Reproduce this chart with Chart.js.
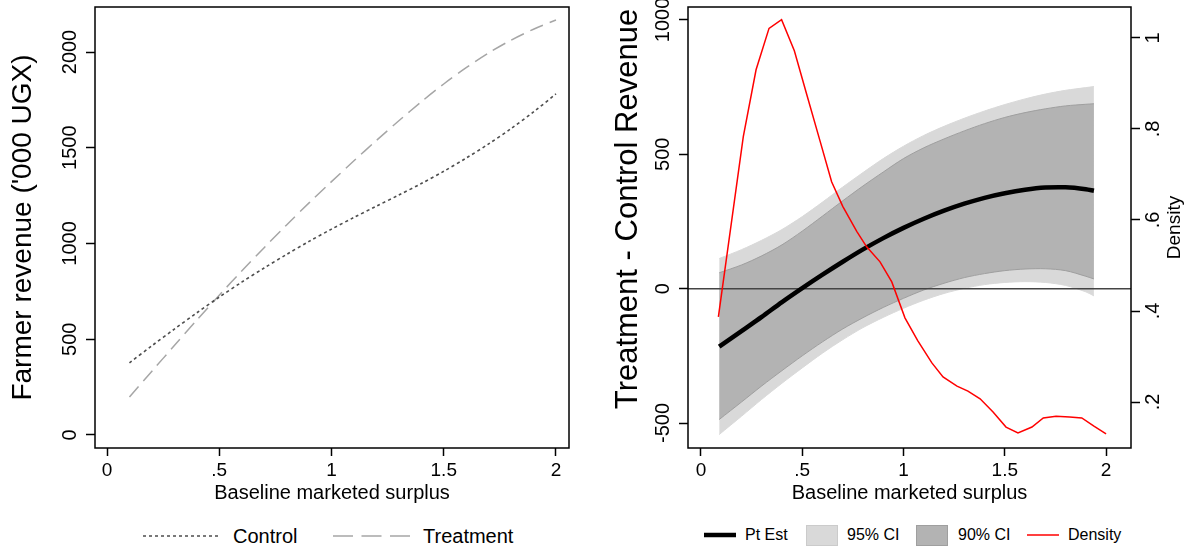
<!DOCTYPE html>
<html>
<head>
<meta charset="utf-8">
<script src="https://cdn.jsdelivr.net/npm/chart.js@4.4.1/dist/chart.umd.min.js"></script>
<style>
  body { margin: 0; background: #fff; }
  #wrap { position: relative; width: 1186px; height: 548px; font-family: "Liberation Sans", Arial, sans-serif; color: #000; }
  canvas { position: absolute; top: 0; }
  .lg { position: absolute; white-space: nowrap; }
  .lg20 { font-size: 20px; line-height: 24px; top: 524px; }
  .lg16 { font-size: 16px; line-height: 20px; top: 525px; }
</style>
</head>
<body>
<div id="wrap">
  <canvas id="left" width="593" height="505" style="left:0"></canvas>
  <canvas id="right" width="593" height="505" style="left:593px"></canvas>

  <!-- left legend -->
  <svg class="lg" style="left:143px;top:530px" width="78" height="12"><line x1="0" y1="6" x2="78" y2="6" stroke="#4d4d4d" stroke-width="1.6" stroke-dasharray="3 3"/></svg>
  <div class="lg lg20" style="left:233px">Control</div>
  <svg class="lg" style="left:333px;top:530px" width="78" height="12"><line x1="0" y1="6" x2="78" y2="6" stroke="#a6a6a6" stroke-width="1.5" stroke-dasharray="20 8.5"/></svg>
  <div class="lg lg20" style="left:423px">Treatment</div>

  <!-- right legend -->
  <svg class="lg" style="left:704px;top:529px" width="32" height="12"><line x1="0" y1="6" x2="32" y2="6" stroke="#000" stroke-width="4.5"/></svg>
  <div class="lg lg16" style="left:745px">Pt Est</div>
  <div class="lg" style="left:806px;top:525px;width:30px;height:19px;background:#d9d9d9;border:1px solid #cbcbcb"></div>
  <div class="lg lg16" style="left:847px">95% CI</div>
  <div class="lg" style="left:916px;top:525px;width:30px;height:19px;background:#b3b3b3;border:1px solid #9f9f9f"></div>
  <div class="lg lg16" style="left:958px">90% CI</div>
  <svg class="lg" style="left:1027px;top:529px" width="32" height="12"><line x1="0" y1="6" x2="32" y2="6" stroke="#ff0000" stroke-width="1.5"/></svg>
  <div class="lg lg16" style="left:1068px">Density</div>
</div>

<script>
// ---- data: left panel (predicted revenue) ----
const surplus = [0.1, 0.2, 0.3, 0.4, 0.5, 0.6, 0.7, 0.8, 0.9, 1.0,
                 1.1, 1.2, 1.3, 1.4, 1.5, 1.6, 1.7, 1.8, 1.9, 2.0];
const controlRevenue = [377, 466, 553, 638, 720, 798, 872, 943, 1011, 1075,
                        1136, 1195, 1253, 1313, 1377, 1446, 1520, 1600, 1687, 1781];
const treatmentRevenue = [198, 333, 467, 600, 730, 856, 978, 1097, 1212, 1323,
                          1432, 1538, 1641, 1740, 1833, 1918, 1995, 2062, 2119, 2167];

// ---- data: right panel (treatment effect + density) ----
const effectX = [0.09, 0.2, 0.3, 0.4, 0.5, 0.6, 0.7, 0.8, 0.9, 1.0,
                 1.1, 1.2, 1.3, 1.4, 1.5, 1.6, 1.7, 1.8, 1.9, 1.94];
const ptEst = [-216, -158, -105, -50, 2, 52, 100, 146, 188, 226,
               260, 290, 316, 338, 355, 368, 376, 377, 370, 364];
const ci95Hi = [112, 145, 180, 220, 268, 322, 378, 432, 484, 530,
                570, 604, 634, 661, 685, 706, 724, 738, 748, 752];
const ci90Hi = [59, 88, 122, 163, 214, 270, 327, 382, 434, 484,
                524, 557, 587, 614, 637, 655, 669, 680, 686, 688];
const ci90Lo = [-487, -422, -362, -305, -250, -198, -150, -108, -70, -36,
                -5, 20, 41, 56, 67, 73, 74, 67, 46, 36];
const ci95Lo = [-543, -475, -412, -352, -295, -240, -190, -145, -107, -73,
                -43, -18, 1, 15, 23, 26, 23, 12, -12, -27];

const densityX = [0.086, 0.209, 0.272, 0.336, 0.398, 0.461, 0.524, 0.587, 0.645, 0.700,
                  0.769, 0.818, 0.884, 0.942, 1.007, 1.07, 1.14, 1.195, 1.264, 1.318,
                  1.378, 1.442, 1.506, 1.565, 1.634, 1.69, 1.753, 1.82, 1.88, 1.94, 2.0];
const densityY = [0.387, 0.783, 0.930, 1.021, 1.040, 0.972, 0.873, 0.775, 0.684, 0.630,
                  0.575, 0.541, 0.508, 0.464, 0.385, 0.335, 0.286, 0.255, 0.235, 0.224,
                  0.207, 0.178, 0.145, 0.132, 0.145, 0.165, 0.169, 0.167, 0.165, 0.147, 0.13];

// ---- tick labels ----
const xTicks = [0, 0.5, 1, 1.5, 2];
const xTickLabels = ['0', '.5', '1', '1.5', '2'];
const revTicks = [0, 500, 1000, 1500, 2000];
const effTicks = [-500, 0, 500, 1000];
const densTicks = [0.2, 0.4, 0.6, 0.8, 1];
const densTickLabels = ['.2', '.4', '.6', '.8', '1'];

const FONT = '"Liberation Sans", Arial, sans-serif';

function pts(xs, ys) {
    return xs.map((x, i) => ({ x: x, y: ys[i] }));
}

function tickGrid(len) {
    return { display: true, drawOnChartArea: false, drawTicks: true, tickLength: len, tickColor: '#000', tickWidth: 1.5 };
}

function xAxis(min, max) {
    return {
        type: 'linear', min: min, max: max,
        afterBuildTicks: s => { s.ticks = xTicks.map(v => ({ value: v })); },
        afterFit: s => { s.height = 57; s.paddingLeft = 0; s.paddingRight = 0; },
        grid: tickGrid(8),
        border: { display: false },
        ticks: {
            color: '#000', font: { family: FONT, size: 19 }, padding: 3, maxRotation: 0, autoSkip: false,
            callback: v => xTickLabels[xTicks.indexOf(v)]
        },
        title: { display: true, text: 'Baseline marketed surplus', color: '#000', font: { family: FONT, size: 20 }, padding: { top: 0, bottom: 0 } }
    };
}

// box around the plot area
const frame = {
    id: 'frame',
    afterDraw(chart) {
        const a = chart.chartArea, ctx = chart.ctx;
        ctx.save();
        ctx.strokeStyle = '#000';
        ctx.lineWidth = 1.5;
        ctx.strokeRect(a.left, a.top, a.right - a.left, a.bottom - a.top);
        ctx.restore();
    }
};

// left panel
new Chart(document.getElementById('left'), {
    type: 'line',
    data: {
        datasets: [
            {
                label: 'Control', data: pts(surplus, controlRevenue),
                borderColor: '#4d4d4d', borderWidth: 1.6, borderDash: [3, 3],
                pointRadius: 0, tension: 0.3, fill: false
            },
            {
                label: 'Treatment', data: pts(surplus, treatmentRevenue),
                borderColor: '#a6a6a6', borderWidth: 1.5, borderDash: [14, 7],
                pointRadius: 0, tension: 0.3, fill: false
            }
        ]
    },
    options: {
        responsive: false, animation: false, devicePixelRatio: 1,
        layout: { padding: { top: 7, right: 24, left: 0, bottom: 0 } },
        plugins: { legend: { display: false }, tooltip: { enabled: false } },
        scales: {
            x: xAxis(-0.0535, 2.058),
            y: {
                type: 'linear', min: -68, max: 2235,
                afterBuildTicks: s => { s.ticks = revTicks.map(v => ({ value: v })); },
                afterFit: s => { s.width = 95; s.paddingTop = 0; s.paddingBottom = 0; },
                grid: tickGrid(9),
                border: { display: false },
                ticks: {
                    color: '#000', font: { family: FONT, size: 20 }, minRotation: 90, maxRotation: 90,
                    crossAlign: 'center', padding: -7, callback: v => String(v)
                },
                title: { display: true, text: "Farmer revenue ('000 UGX)", color: '#000', font: { family: FONT, size: 28 }, padding: { top: 6, bottom: 0 } }
            }
        }
    },
    plugins: [frame]
});

// zero line under the estimate lines, plus rotated axis titles
const effectExtras = {
    id: 'effectExtras',
    afterDatasetDraw(chart, args) {
        if (args.index !== 2) return;
        const a = chart.chartArea, ctx = chart.ctx;
        const y0 = chart.scales.y.getPixelForValue(0);
        ctx.save();
        ctx.strokeStyle = '#444';
        ctx.lineWidth = 1.5;
        ctx.beginPath();
        ctx.moveTo(a.left, y0);
        ctx.lineTo(a.right, y0);
        ctx.stroke();
        ctx.restore();
    },
    afterDraw(chart) {
        const ctx = chart.ctx;
        ctx.save();
        ctx.fillStyle = '#000';
        ctx.textAlign = 'center';
        ctx.textBaseline = 'middle';
        ctx.translate(35, 209);
        ctx.rotate(-Math.PI / 2);
        ctx.font = '31px ' + FONT;
        ctx.fillText('Treatment - Control Revenue', 0, 0);
        ctx.restore();
        ctx.save();
        ctx.fillStyle = '#000';
        ctx.textAlign = 'center';
        ctx.textBaseline = 'middle';
        ctx.translate(582, 227.5);
        ctx.rotate(-Math.PI / 2);
        ctx.font = '19px ' + FONT;
        ctx.fillText('Density', 0, 0);
        ctx.restore();
    }
};

// right panel
new Chart(document.getElementById('right'), {
    type: 'line',
    data: {
        datasets: [
            {
                label: 'Density', data: pts(densityX, densityY), yAxisID: 'y2',
                borderColor: '#ff0000', borderWidth: 1.5, pointRadius: 0, tension: 0, fill: false
            },
            {
                label: 'Pt Est', data: pts(effectX, ptEst),
                borderColor: '#000', borderWidth: 4.5, pointRadius: 0, tension: 0.3, fill: false
            },
            {
                label: '90% lo', data: pts(effectX, ci90Lo),
                borderColor: '#9f9f9f', borderWidth: 1, pointRadius: 0, tension: 0.3, fill: false
            },
            {
                label: '90% CI', data: pts(effectX, ci90Hi),
                borderColor: '#9f9f9f', borderWidth: 1, backgroundColor: '#b3b3b3',
                pointRadius: 0, tension: 0.3, fill: '-1'
            },
            {
                label: '95% lo', data: pts(effectX, ci95Lo),
                borderColor: '#d9d9d9', borderWidth: 1, pointRadius: 0, tension: 0.3, fill: false
            },
            {
                label: '95% CI', data: pts(effectX, ci95Hi),
                borderColor: '#d9d9d9', borderWidth: 1, backgroundColor: '#d9d9d9',
                pointRadius: 0, tension: 0.3, fill: '-1'
            }
        ]
    },
    options: {
        responsive: false, animation: false, devicePixelRatio: 1,
        layout: { padding: { top: 7, right: 0, left: 0, bottom: 0 } },
        plugins: { legend: { display: false }, tooltip: { enabled: false } },
        scales: {
            x: xAxis(-0.064, 2.123),
            y: {
                type: 'linear', position: 'left', min: -593, max: 1048,
                afterBuildTicks: s => { s.ticks = effTicks.map(v => ({ value: v })); },
                afterFit: s => { s.width = 95; s.paddingTop = 0; s.paddingBottom = 0; },
                grid: tickGrid(9),
                border: { display: false },
                ticks: {
                    color: '#000', font: { family: FONT, size: 20 }, minRotation: 90, maxRotation: 90,
                    crossAlign: 'center', padding: -7, callback: v => String(v)
                }
            },
            y2: {
                type: 'linear', position: 'right', min: 0.099, max: 1.068,
                afterBuildTicks: s => { s.ticks = densTicks.map(v => ({ value: v })); },
                afterFit: s => { s.width = 55; s.paddingTop = 0; s.paddingBottom = 0; },
                grid: tickGrid(9),
                border: { display: false },
                ticks: {
                    color: '#000', font: { family: FONT, size: 20 }, minRotation: 90, maxRotation: 90,
                    crossAlign: 'center', padding: 5,
                    callback: v => densTickLabels[densTicks.indexOf(v)]
                }
            }
        }
    },
    plugins: [frame, effectExtras]
});
</script>
</body>
</html>
